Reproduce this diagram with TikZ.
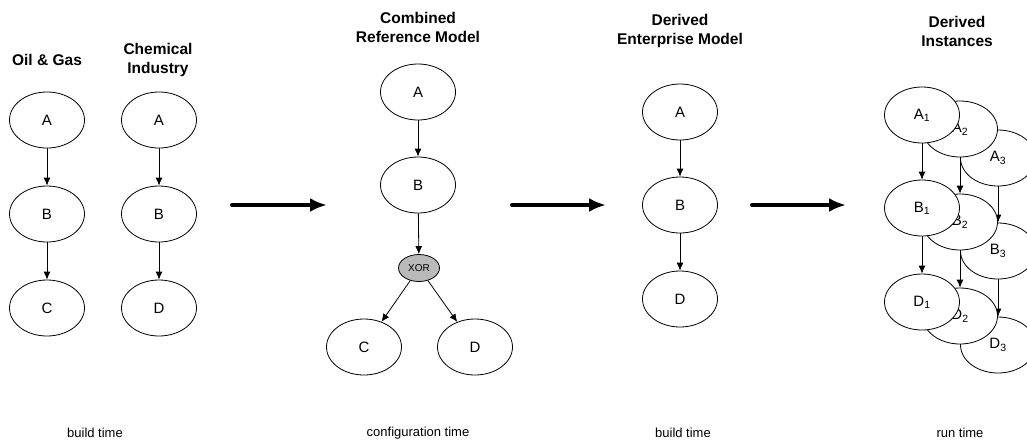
\documentclass[tikz,border=0pt]{standalone}
\usepackage{fontspec}
\setmainfont{Liberation Sans}
\usetikzlibrary{arrows.meta}
\usetikzlibrary{shapes.geometric}
\usetikzlibrary{positioning}

\tikzset{
  modelnode/.style={draw, ellipse, fill=white, line width=0.8pt, minimum width=75pt, minimum height=56pt, inner sep=0pt, font=\fontsize{15}{18}\selectfont},
  xornode/.style={draw, ellipse, fill=gray!55, line width=0.8pt, minimum width=41pt, minimum height=27pt, inner sep=0pt, font=\fontsize{10}{12}\selectfont},
  heading/.style={align=center, font=\fontsize{15.5}{19}\selectfont\bfseries},
  phase/.style={font=\fontsize{13}{15}\selectfont},
  link/.style={-{Latex[length=8pt,width=7pt]}, line width=0.8pt},
  flow/.style={-{Latex[length=17pt,width=14pt]}, line width=4pt, line cap=round}
}

\begin{document}
\begin{tikzpicture}[x=1pt,y=-1pt]
            \useasboundingbox (0,0) rectangle (1027,445);

            \node[heading] (oilT) at (47,60) {Oil \& Gas};
            \node[modelnode] (oA) at (47,120) {A};
            \node[modelnode] (oB) at (47,214) {B};
            \node[modelnode] (oC) at (47,308) {C};
            \draw[link] (oA) -- (oB);
            \draw[link] (oB) -- (oC);

            \node[heading] (chemT) at (158,60) {Chemical\\Industry};
            \node[modelnode] (cA) at (159,120) {A};
            \node[modelnode] (cB) at (159,214) {B};
            \node[modelnode] (cD) at (159,308) {D};
            \draw[link] (cA) -- (cB);
            \draw[link] (cB) -- (cD);

            \node[heading] (refT) at (418,27) {Combined\\Reference Model};
            \node[modelnode] (rA) at (418,92) {A};
            \node[modelnode] (rB) at (418,185) {B};
            \node[xornode] (rX) at (419,268) {XOR};
            \node[modelnode] (rC) at (364,347) {C};
            \node[modelnode] (rD) at (475,347) {D};
            \draw[link] (rA) -- (rB);
            \draw[link] (rB) -- (rX);
            \draw[link] (rX) -- (rC);
            \draw[link] (rX) -- (rD);

            \node[heading] (entT) at (680,31) {Derived\\Enterprise Model};
            \node[modelnode] (eA) at (680,112) {A};
            \node[modelnode] (eB) at (680,205) {B};
            \node[modelnode] (eD) at (680,299) {D};
            \draw[link] (eA) -- (eB);
            \draw[link] (eB) -- (eD);

            \node[heading] (instT) at (957,31) {Derived\\Instances};
            \foreach \i/\x/\y in {3/998/158, 2/960/129, 1/922/115} {
              \node[modelnode] (iA\i) at (\x,\y) {A\textsubscript{\i}};
              \node[modelnode] (iB\i) at (\x,\y+93) {B\textsubscript{\i}};
              \node[modelnode] (iD\i) at (\x,\y+187) {D\textsubscript{\i}};
              \draw[link] (iA\i) -- (iB\i);
              \draw[link] (iB\i) -- (iD\i);
            }

            \coordinate (f1s) at (232,205);
            \coordinate (f1e) at (327,205);
            \coordinate (f2s) at (512,205);
            \coordinate (f2e) at (606,205);
            \coordinate (f3s) at (752,205);
            \coordinate (f3e) at (846,205);
            \draw[flow] (f1s) -- (f1e);
            \draw[flow] (f2s) -- (f2e);
            \draw[flow] (f3s) -- (f3e);

            \node[phase] (p1) at (95,433) {build time};
            \node[phase] (p2) at (418,433) {configuration time};
            \node[phase] (p3) at (683,433) {build time};
            \node[phase] (p4) at (960,433) {run time};
        \end{tikzpicture}
\end{document}
